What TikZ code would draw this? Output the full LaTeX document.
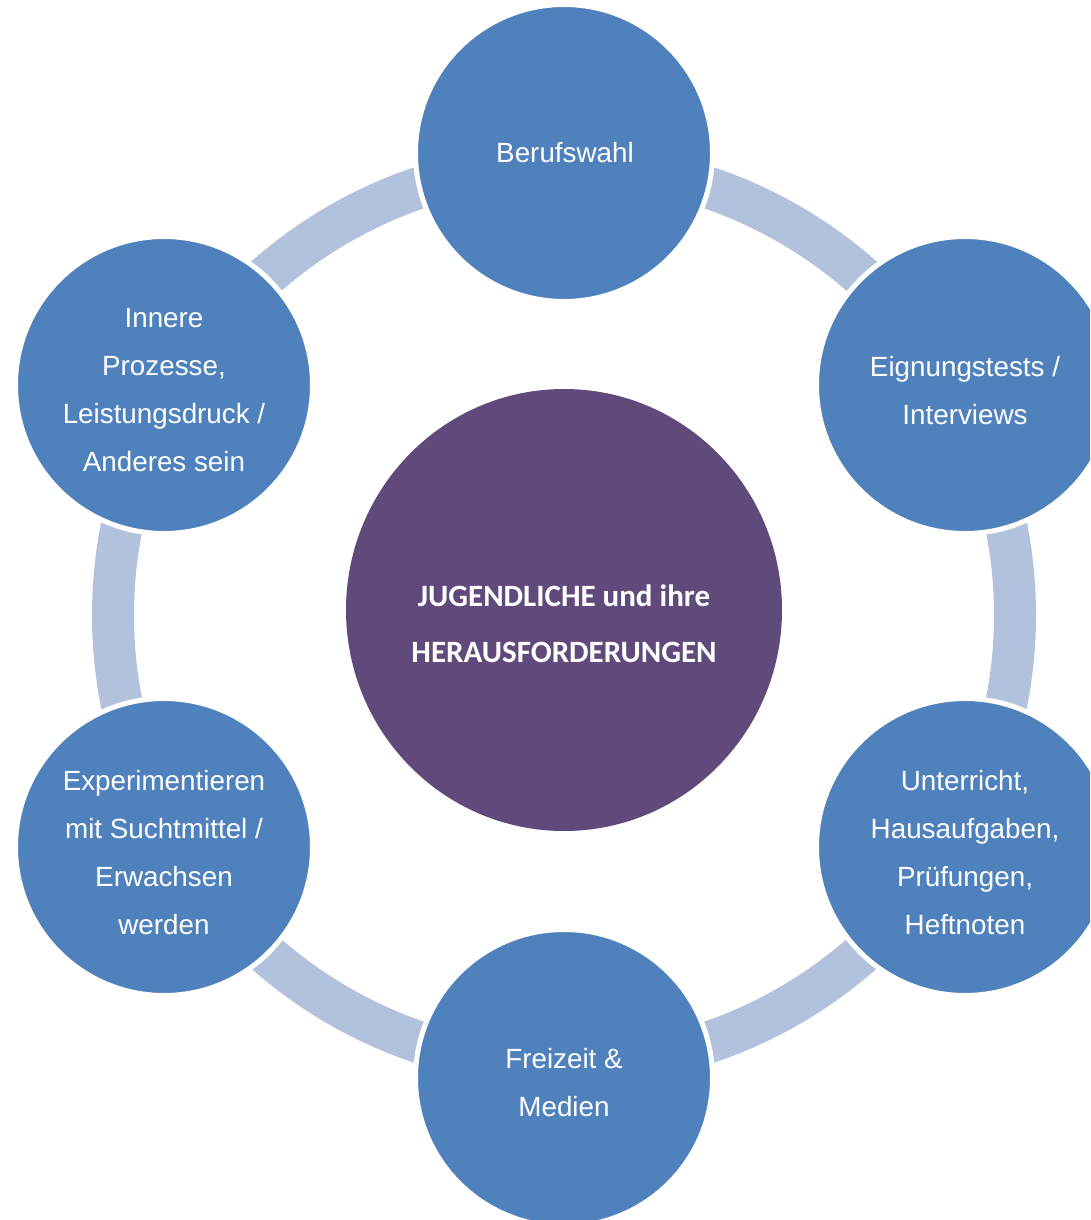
\documentclass[tikz,border=0pt]{standalone}
\usepackage{fontspec}
\setmainfont{Liberation Sans}
\newfontfamily\centerfont{Carlito}
\definecolor{circblue}{HTML}{4F81BD}
\definecolor{ringblue}{HTML}{B2C1DC}
\definecolor{centerpurple}{HTML}{604A7B}
\begin{document}
\begin{tikzpicture}[x=1pt,y=-1pt,
  outercircle/.style={circle, fill=circblue, draw=white, line width=5pt, minimum size=297pt, inner sep=0pt},
  outertext/.style={text=white, align=center, font=\fontsize{27.8}{48}\selectfont},
  centertext/.style={text=white, align=center, font=\centerfont\bfseries\fontsize{31}{56}\selectfont}]
\useasboundingbox (0,0) rectangle (1090,1220);
\clip (0,0) rectangle (1090,1220);
% ring
\draw[ringblue, line width=42pt] (564,615) circle[radius=451];
% center
\fill[centerpurple] (564,610) ellipse[x radius=218, y radius=221];
\node[centertext] (c) at (564,624) {JUGENDLICHE und ihre\\HERAUSFORDERUNGEN};
% outer circles
\node[outercircle] (n1) at (564,153) {};
\node[outercircle] (n2) at (965,385) {};
\node[outercircle] (n3) at (965,847) {};
\node[outercircle] (n4) at (564,1078) {};
\node[outercircle] (n5) at (164,847) {};
\node[outercircle] (n6) at (164,385) {};
\node[outertext] (t1) at (565,153) {Berufswahl};
\node[outertext] (t2) at (965,391) {Eignungstests /\\Interviews};
\node[outertext] (t3) at (965,853) {Unterricht,\\Hausaufgaben,\\Prüfungen,\\Heftnoten};
\node[outertext] (t4) at (564,1083) {Freizeit \&\\Medien};
\node[outertext] (t5) at (164,853) {Experimentieren\\mit Suchtmittel /\\Erwachsen\\werden};
\node[outertext] (t6) at (164,390) {Innere\\Prozesse,\\Leistungsdruck /\\Anderes sein};
\end{tikzpicture}
\end{document}
